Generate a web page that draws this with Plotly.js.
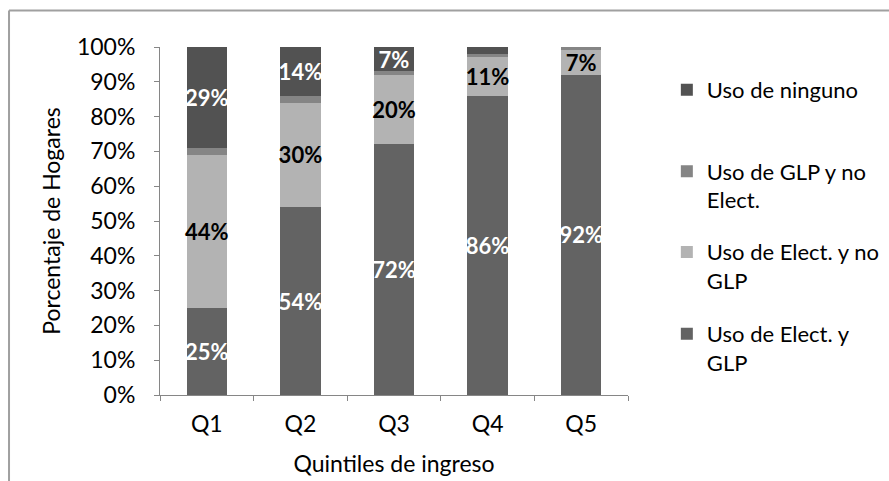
<!DOCTYPE html>
<html>
<head>
<meta charset="utf-8">
<script src="https://cdn.plot.ly/plotly-3.0.1.min.js"></script>
<style>
  html, body { margin: 0; padding: 0; background: #ffffff; }
  #chart { width: 889px; height: 481px; }
</style>
</head>
<body>
<div id="chart"></div>
<script>
// Income quintiles and share of households (%) by fuel use
const quintiles = ['Q1', 'Q2', 'Q3', 'Q4', 'Q5'];
const usoElectYGlp = [25, 54, 72, 86, 92];
const usoElectNoGlp = [44, 30, 20, 11, 7];
const usoGlpNoElect = [2, 2, 1, 1, 1];
const usoNinguno = [29, 14, 7, 2, 0];

const yTicks = [0, 10, 20, 30, 40, 50, 60, 70, 80, 90, 100];

const FONT = 'Lato, Carlito, Calibri, sans-serif';
const SIZE = 23;
const LABEL_SIZE = 22;
const LEGEND_SIZE = 22;

// small segments are left without a value label
function labels(values) {
  return values.map(v => (v >= 5 ? v + '%' : ''));
}

function series(name, values, color, textColor, legendId, showText) {
  return {
    type: 'bar',
    name: name,
    x: quintiles,
    y: values,
    text: showText ? labels(values) : values.map(() => ''),
    texttemplate: '%{text}',
    textposition: 'inside',
    insidetextanchor: 'middle',
    constraintext: 'none',
    textangle: 0,
    insidetextfont: { family: FONT, size: LABEL_SIZE, color: textColor, weight: 'bold' },
    marker: { color: color, line: { width: 0 } },
    hoverinfo: 'skip',
    legend: legendId
  };
}

const traces = [
  series('Uso de Elect. y<br>GLP', usoElectYGlp, '#636363', '#ffffff', 'legend4', true),
  series('Uso de Elect. y no<br>GLP', usoElectNoGlp, '#b3b3b3', '#000000', 'legend3', true),
  series('Uso de GLP y no<br>Elect.', usoGlpNoElect, '#858585', '#ffffff', 'legend2', false),
  series('Uso de ninguno', usoNinguno, '#525252', '#ffffff', 'legend', true)
];

// one legend per entry so each entry sits on its own row
function legendBox(y) {
  return {
    x: 1.083, xanchor: 'left',
    y: y, yanchor: 'top',
    valign: 'top',
    bgcolor: 'rgba(0,0,0,0)',
    borderwidth: 0,
    font: { family: FONT, size: LEGEND_SIZE, color: '#000000' }
  };
}

const axisColor = '#868686';
const frameColor = '#a0a0a0';

const layout = {
  width: 889,
  height: 481,
  margin: { l: 160, r: 261, t: 47, b: 86, autoexpand: false },
  paper_bgcolor: '#ffffff',
  plot_bgcolor: '#ffffff',
  barmode: 'stack',
  bargap: 0.57,
  font: { family: FONT, size: SIZE, color: '#000000' },
  showlegend: true,
  legend: legendBox(0.937),
  legend2: legendBox(0.703),
  legend3: legendBox(0.471),
  legend4: legendBox(0.236),
  xaxis: {
    type: 'category',
    showgrid: false,
    zeroline: false,
    showline: true,
    linecolor: axisColor,
    linewidth: 1,
    ticks: 'outside',
    tickson: 'boundaries',
    ticklen: 5,
    tickcolor: axisColor,
    ticklabelstandoff: 8,
    tickfont: { family: FONT, size: SIZE, color: '#000000' },
    title: { text: 'Quintiles de ingreso', font: { family: FONT, size: SIZE, color: '#000000' }, standoff: 20 },
    automargin: false
  },
  yaxis: {
    range: [0, 100],
    tickvals: yTicks,
    ticktext: yTicks.map(v => v + '%'),
    showgrid: false,
    zeroline: false,
    showline: true,
    linecolor: axisColor,
    linewidth: 1,
    ticks: 'outside',
    ticklen: 5,
    tickcolor: axisColor,
    ticklabelstandoff: 14,
    tickfont: { family: FONT, size: SIZE, color: '#000000' },
    title: { text: 'Porcentaje de Hogares', font: { family: FONT, size: SIZE, color: '#000000' }, standoff: 9 },
    automargin: false
  },
  // chart frame along the top and left edges
  shapes: [
    { type: 'line', xref: 'paper', yref: 'paper', x0: -0.3226, x1: 1.56, y0: 1.1049, y1: 1.1049,
      line: { color: frameColor, width: 2 } },
    { type: 'line', xref: 'paper', yref: 'paper', x0: -0.3226, x1: -0.3226, y0: 1.1049, y1: -0.25,
      line: { color: frameColor, width: 2 } }
  ]
};

Plotly.newPlot('chart', traces, layout, { displayModeBar: false, staticPlot: true });
</script>
</body>
</html>
